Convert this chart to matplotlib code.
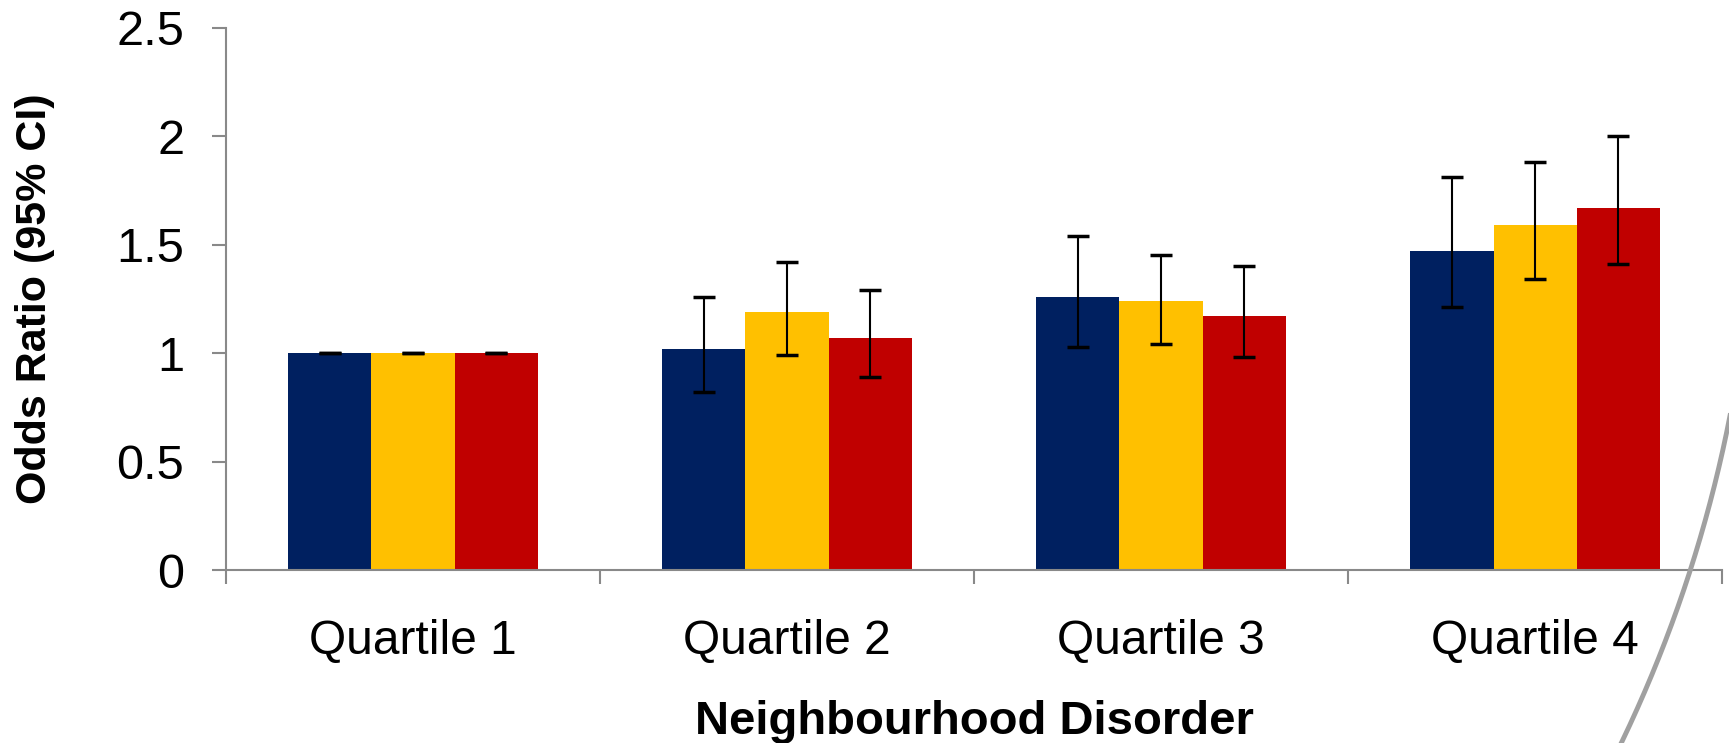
import numpy as np
import matplotlib
matplotlib.use("Agg")
import matplotlib.pyplot as plt
from matplotlib.lines import Line2D

# data
categories = ["Quartile 1", "Quartile 2", "Quartile 3", "Quartile 4"]
navy_or = [1.0, 1.02, 1.26, 1.47]
navy_lo = [1.0, 0.82, 1.03, 1.21]
navy_hi = [1.0, 1.26, 1.54, 1.81]
gold_or = [1.0, 1.19, 1.24, 1.59]
gold_lo = [1.0, 0.99, 1.04, 1.34]
gold_hi = [1.0, 1.42, 1.45, 1.88]
red_or = [1.0, 1.07, 1.17, 1.67]
red_lo = [1.0, 0.89, 0.98, 1.41]
red_hi = [1.0, 1.29, 1.40, 2.00]
yticks = [0, 0.5, 1, 1.5, 2, 2.5]
ytick_labels = ["0", "0.5", "1", "1.5", "2", "2.5"]

plt.rcParams['font.family'] = ['Liberation Sans', 'DejaVu Sans']

fig = plt.figure(figsize=(17.29, 7.43), dpi=100)
ax = fig.add_axes([0.1307, 0.2328, 0.8653, 0.7301])

x = np.arange(len(categories))
w = 1 / 4.5
series = [
    (navy_or, navy_lo, navy_hi, "#002060"),
    (gold_or, gold_lo, gold_hi, "#FFC000"),
    (red_or, red_lo, red_hi, "#C00000"),
]
for i, (vals, lo, hi, col) in enumerate(series):
    pos = x + (i - 1) * w
    vals = np.array(vals)
    err = [vals - np.array(lo), np.array(hi) - vals]
    ax.bar(pos, vals, width=w, color=col, zorder=2)
    ax.errorbar(pos, vals, yerr=err, fmt="none", ecolor="black",
                elinewidth=1.5, capsize=8, capthick=2.5, zorder=3)

ax.set_xlim(-0.5, len(categories) - 0.5)
ax.set_ylim(0, 2.5)
ax.set_yticks(yticks)
ax.set_yticklabels(ytick_labels)
ax.set_xticks(x)
ax.set_xticklabels(categories)
ax.set_xticks(np.arange(len(categories) + 1) - 0.5, minor=True)
ax.tick_params(axis="x", which="major", length=0, labelsize=34.5, pad=35)
ax.tick_params(axis="x", which="minor", length=10, width=1.5, color="#898989", direction="out")
ax.tick_params(axis="y", length=10, width=1.5, color="#898989", labelsize=35, pad=20)

for s in ["top", "right"]:
    ax.spines[s].set_visible(False)
for s in ["left", "bottom"]:
    ax.spines[s].set_color("#898989")
    ax.spines[s].set_linewidth(1.5)

ax.set_ylabel("Odds Ratio (95% CI)", fontsize=31, fontweight="bold", labelpad=44)
ax.set_xlabel("Neighbourhood Disorder", fontsize=34, fontweight="bold", labelpad=26)

# decorative grey arc at the right edge
W, H = 1729, 743
cx, cy, R = 404, 157, 1351
t = np.linspace(np.arcsin((400 - cy) / R), np.arcsin((743 - cy) / R), 200)
px = cx + R * np.cos(t)
py = cy + R * np.sin(t)
fig.add_artist(Line2D(px / W, 1 - py / H, transform=fig.transFigure,
                      color="#a0a0a0", linewidth=3.5, zorder=5))

fig.savefig("out.png", dpi=100)
